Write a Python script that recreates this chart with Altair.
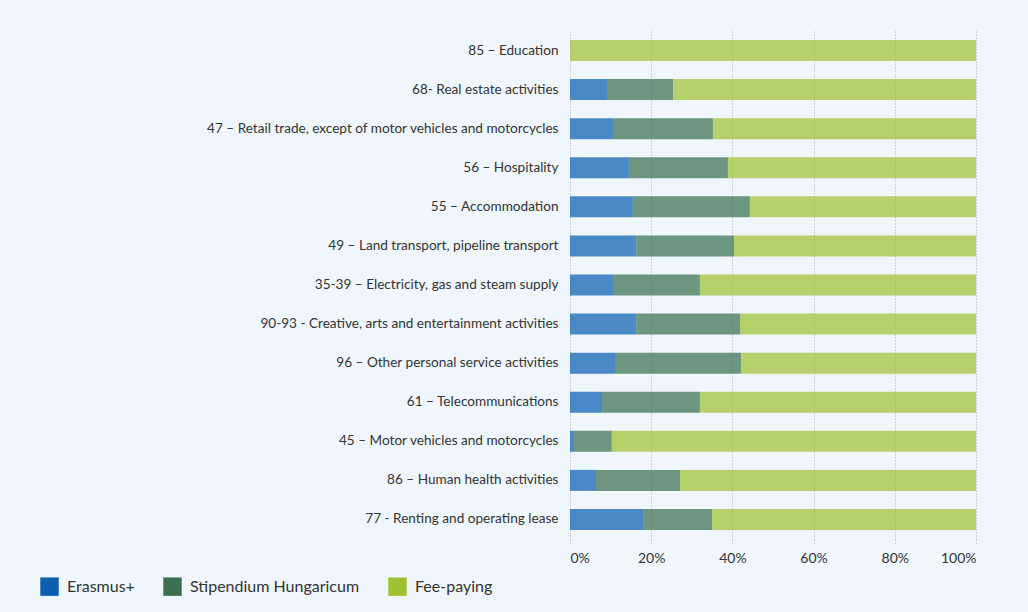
import altair as alt
import pandas as pd

categories = [
    "85 – Education",
    "68- Real estate activities",
    "47 – Retail trade, except of motor vehicles and motorcycles",
    "56 – Hospitality",
    "55 – Accommodation",
    "49 – Land transport, pipeline transport",
    "35-39 – Electricity, gas and steam supply",
    "90-93 - Creative, arts and entertainment activities",
    "96 – Other personal service activities",
    "61 – Telecommunications",
    "45 – Motor vehicles and motorcycles",
    "86 – Human health activities",
    "77 - Renting and operating lease",
]
erasmus = [0.0, 9.1, 10.6, 14.5, 15.5, 16.3, 10.6, 16.3, 11.3, 7.9, 1.0, 6.4, 18.0]
stipendium = [0.0, 16.3, 24.6, 24.4, 28.8, 24.1, 21.4, 25.6, 30.8, 24.1, 9.3, 20.7, 17.0]
fee_paying = [round(100 - e - s, 1) for e, s in zip(erasmus, stipendium)]

series = ["Erasmus+", "Stipendium Hungaricum", "Fee-paying"]
colors = ["#0b5eb0", "#3a7050", "#9cc233"]

rows = []
for i, c in enumerate(categories):
    for j, (name, vals) in enumerate(zip(series, [erasmus, stipendium, fee_paying])):
        rows.append({"category": c, "series": name, "value": vals[i], "order": j})
df = pd.DataFrame(rows)

font = "Lato"

chart = (
    alt.Chart(df)
    .mark_bar(opacity=0.72, size=21)
    .encode(
        y=alt.Y(
            "category:N",
            sort=categories,
            title=None,
            scale=alt.Scale(paddingInner=0.46, paddingOuter=0.23),
            axis=alt.Axis(
                domain=False,
                ticks=False,
                labelPadding=12,
                labelFontSize=13.6,
                labelColor="#333333",
                labelFont=font,
                labelLimit=600,
            ),
        ),
        x=alt.X(
            "value:Q",
            stack="normalize",
            title=None,
            scale=alt.Scale(domain=[0, 1]),
            axis=alt.Axis(
                format="%",
                values=[0, 0.2, 0.4, 0.6, 0.8, 1.0],
                domain=False,
                grid=True,
                gridColor="#a8acb0",
                gridDash=[1, 2],
                gridWidth=1,
                ticks=True,
                tickColor="#a8acb0",
                tickDash=[1, 2],
                tickSize=6,
                labelFontSize=14,
                labelColor="#333333",
                labelFont=font,
                labelPadding=6,
            ),
        ),
        color=alt.Color(
            "series:N",
            sort=series,
            scale=alt.Scale(domain=series, range=colors),
            legend=alt.Legend(
                title=None,
                orient="none",
                direction="horizontal",
                legendX=-530,
                legendY=546,
                symbolType="square",
                symbolSize=340,
                symbolOpacity=1,
                symbolStrokeWidth=0,
                labelFontSize=16,
                labelFont=font,
                labelColor="#333333",
                labelOffset=8,
                labelLimit=400,
                columnPadding=28,
            ),
        ),
        order=alt.Order("order:Q"),
    )
    .properties(
        width=406,
        height=508,
        autosize=alt.AutoSizeParams(type="none"),
        padding={"left": 570, "top": 31, "right": 52, "bottom": 73},
        background="#eff7fd",
    )
    .configure_view(stroke=None)
)

chart.save("out.html", embed_options={"renderer": "svg", "actions": False})
